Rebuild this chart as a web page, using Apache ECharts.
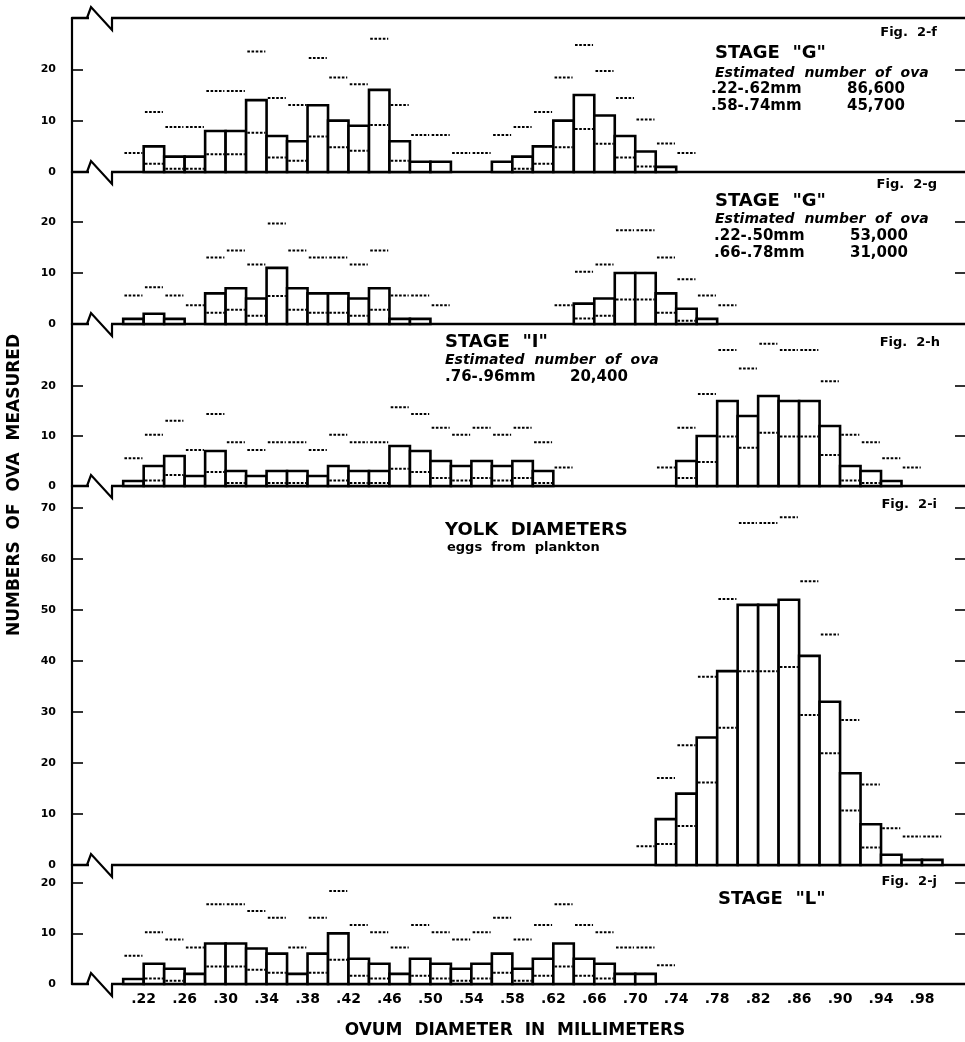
<!DOCTYPE html>
<html>
<head>
<meta charset="utf-8">
<script src="https://cdn.jsdelivr.net/npm/echarts@6/dist/echarts.min.js"></script>
<style>
  html, body { margin: 0; padding: 0; background: #fff; }
  #chart { width: 965px; height: 1042px; }
</style>
</head>
<body>
<div id="chart"></div>
<script>
// Ovum diameter classes are 0.02 mm wide; each panel lists counts per class
// starting at its first class. 0 = empty class that still carries a limit mark,
// null = empty class with nothing drawn.
const BIN_WIDTH = 0.02;

const startF = 0.20;
const countsF = [0, 5, 3, 3, 8, 8, 14, 7, 6, 13, 10, 9, 16, 6, 2, 2, 0, 0,
                 2, 3, 5, 10, 15, 11, 7, 4, 1, 0];

const startG = 0.20;
const countsG = [1, 2, 1, 0, 6, 7, 5, 11, 7, 6, 6, 5, 7, 1, 1, 0,
                 null, null, null, null, null,
                 0, 4, 5, 10, 10, 6, 3, 1, 0];

const startH = 0.20;
const countsH = [1, 4, 6, 2, 7, 3, 2, 3, 3, 2, 4, 3, 3, 8, 7, 5, 4, 5, 4, 5, 3, 0,
                 null, null, null, null,
                 0, 5, 10, 17, 14, 18, 17, 17, 12, 4, 3, 1, 0];

const startI = 0.70;
const countsI = [0, 9, 14, 25, 38, 51, 51, 52, 41, 32, 18, 8, 2, 1, 1];

const startJ = 0.20;
const countsJ = [1, 4, 3, 2, 8, 8, 7, 6, 2, 6, 10, 5, 4, 2, 5, 4, 3, 4, 6, 3,
                 5, 8, 5, 4, 2, 2, 0];

// 95 % confidence limits of a Poisson count (lower, upper), standard table.
const poisson95 = {
  0: [0, 3.69], 1: [0.03, 5.57], 2: [0.24, 7.22], 3: [0.62, 8.77],
  4: [1.09, 10.24], 5: [1.62, 11.67], 6: [2.20, 13.06], 7: [2.81, 14.42],
  8: [3.45, 15.76], 9: [4.12, 17.08], 10: [4.80, 18.39], 11: [5.49, 19.68],
  12: [6.20, 20.96], 13: [6.92, 22.23], 14: [7.65, 23.49], 15: [8.40, 24.74],
  16: [9.15, 25.98], 17: [9.90, 27.22], 18: [10.67, 28.45], 25: [16.18, 36.90],
  32: [21.89, 45.17], 38: [26.89, 52.15], 41: [29.42, 55.62], 51: [37.97, 67.06],
  52: [38.84, 68.19]
};

const xTickLabels = ['.22', '.26', '.30', '.34', '.38', '.42', '.46', '.50', '.54', '.58',
                     '.62', '.66', '.70', '.74', '.78', '.82', '.86', '.90', '.94', '.98'];
const xTickValues = xTickLabels.map(s => parseFloat('0' + s));

const yLabelsSmall = [0, 10, 20];
const yLabelsYolk = [0, 10, 20, 30, 40, 50, 60, 70];

// ---- layout ----
const FONT = 'DejaVu Sans';
const X_MIN = 0.15, X_MAX = 1.022;
const LEFT = 72;

const panels = [
  { top: 18,  height: 154, max: 30.0, start: startF, counts: countsF, labels: yLabelsSmall },
  { top: 172, height: 152, max: 29.8, start: startG, counts: countsG, labels: yLabelsSmall },
  { top: 324, height: 162, max: 32.4, start: startH, counts: countsH, labels: yLabelsSmall },
  { top: 486, height: 379, max: 74.3, start: startI, counts: countsI, labels: yLabelsYolk },
  { top: 865, height: 119, max: 23.5, start: startJ, counts: countsJ, labels: yLabelsSmall }
];

function classLow(start, k) {
  return Math.round((start + k * BIN_WIDTH) * 1000) / 1000;
}

function renderBar(params, api) {
  const lo = api.value(0), n = api.value(1);
  const a = api.coord([lo, 0]);
  const b = api.coord([lo + BIN_WIDTH, n]);
  return {
    type: 'rect',
    shape: { x: a[0], y: b[1], width: b[0] - a[0], height: a[1] - b[1] },
    style: { fill: '#fff', stroke: '#000', lineWidth: 2.6 }
  };
}

function renderLimits(params, api) {
  const lo = api.value(0), lower = api.value(1), upper = api.value(2), n = api.value(3);
  const x0 = lo + 0.0012, x1 = lo + BIN_WIDTH - 0.0012;
  const seg = (v) => {
    const p = api.coord([x0, v]), q = api.coord([x1, v]);
    return {
      type: 'line',
      shape: { x1: p[0], y1: p[1], x2: q[0], y2: q[1] },
      style: { stroke: '#000', lineWidth: 2, lineDash: [2.6, 1.6] }
    };
  };
  const children = [seg(upper)];
  if (n > 0 && lower > 0.3) children.push(seg(lower));
  return { type: 'group', children };
}

const grids = [], xAxes = [], yAxes = [], series = [];

panels.forEach((p, i) => {
  const last = i === panels.length - 1;
  grids.push({ left: LEFT, right: 0, top: p.top, height: p.height });

  xAxes.push({
    type: 'value', gridIndex: i, min: X_MIN, max: X_MAX,
    axisLine: { show: true, onZero: false, lineStyle: { color: '#000', width: 2.4 } },
    axisTick: { show: false },
    splitLine: { show: false },
    axisLabel: last ? {
      show: true, customValues: xTickValues, margin: 8,
      color: '#000', fontFamily: FONT, fontWeight: 'bold', fontSize: 14,
      formatter: (v) => {
        const idx = xTickValues.findIndex(t => Math.abs(t - v) < 1e-6);
        return idx >= 0 ? xTickLabels[idx] : '';
      }
    } : { show: false }
  });

  const tickVals = p.labels.filter(v => v > 0);
  yAxes.push({
    type: 'value', gridIndex: i, min: 0, max: p.max, position: 'left',
    axisLine: { show: true, lineStyle: { color: '#000', width: 2.2 } },
    axisTick: { show: true, inside: true, length: 11, customValues: tickVals,
                lineStyle: { color: '#000', width: 1.6 } },
    axisLabel: { show: true, customValues: p.labels, margin: 16, color: '#000',
                 fontFamily: FONT, fontWeight: 'bold', fontSize: 11 },
    splitLine: { show: false }
  });
  yAxes.push({
    type: 'value', gridIndex: i, min: 0, max: p.max, position: 'right',
    axisLine: { show: false },
    axisTick: { show: true, inside: true, length: 10, customValues: tickVals,
                lineStyle: { color: '#000', width: 1.6 } },
    axisLabel: { show: false },
    splitLine: { show: false }
  });

  const barData = [], limitData = [];
  p.counts.forEach((n, k) => {
    if (n === null) return;
    const lo = classLow(p.start, k);
    if (n > 0) barData.push([lo, n]);
    const lim = poisson95[n];
    limitData.push([lo, lim[0], lim[1], n]);
  });

  series.push({
    type: 'custom', xAxisIndex: i, yAxisIndex: i * 2, renderItem: renderBar,
    data: barData, encode: { x: 0, y: 1 }, z: 2, silent: true
  });
  series.push({
    type: 'custom', xAxisIndex: i, yAxisIndex: i * 2, renderItem: renderLimits,
    data: limitData, encode: { x: 0, y: 2 }, z: 3, silent: true
  });
});

// top border of the uppermost panel
xAxes.push({
  type: 'value', gridIndex: 0, position: 'top', min: X_MIN, max: X_MAX,
  axisLine: { show: true, onZero: false, lineStyle: { color: '#000', width: 2.4 } },
  axisTick: { show: false }, axisLabel: { show: false }, splitLine: { show: false }
});

// ---- break marks on each horizontal rule ----
const graphics = [];
const rules = [panels[0].top].concat(panels.map(p => p.top + p.height));
rules.forEach(y => {
  graphics.push({
    type: 'rect', z: 100, silent: true,
    shape: { x: LEFT + 17, y: y - 2.5, width: 22, height: 5 },
    style: { fill: '#fff' }
  });
  graphics.push({
    type: 'polyline', z: 101, silent: true,
    shape: { points: [[LEFT + 15, y], [LEFT + 19, y - 11], [LEFT + 40, y + 12], [LEFT + 40, y]] },
    style: { stroke: '#000', lineWidth: 2.2, fill: null }
  });
});

function txt(text, x, y, font, align) {
  return {
    type: 'text', z: 110, silent: true, x: x, y: y,
    style: { text: text, font: font, fill: '#000',
             textAlign: align || 'left', textVerticalAlign: 'middle',
             align: align || 'left', verticalAlign: 'middle' }
  };
}

const figFont = 'bold 13px "' + FONT + '"';
const stageFont = 'bold 18px "' + FONT + '"';
const estFont = 'italic bold 14px "' + FONT + '"';
const numFont = 'bold 15px "' + FONT + '"';

graphics.push(
  // Fig. 2-f
  txt('Fig.  2-f', 937, 33, figFont, 'right'),
  txt('STAGE  "G"', 715, 53, stageFont),
  txt('Estimated  number  of  ova', 715, 73, estFont),
  txt('.22-.62mm', 711, 89, numFont),
  txt('86,600', 847, 89, numFont),
  txt('.58-.74mm', 711, 106, numFont),
  txt('45,700', 847, 106, numFont),
  // Fig. 2-g
  txt('Fig.  2-g', 937, 185, figFont, 'right'),
  txt('STAGE  "G"', 715, 201, stageFont),
  txt('Estimated  number  of  ova', 715, 219, estFont),
  txt('.22-.50mm', 714, 236, numFont),
  txt('53,000', 850, 236, numFont),
  txt('.66-.78mm', 714, 253, numFont),
  txt('31,000', 850, 253, numFont),
  // Fig. 2-h
  txt('Fig.  2-h', 940, 343, figFont, 'right'),
  txt('STAGE  "I"', 445, 342, stageFont),
  txt('Estimated  number  of  ova', 445, 360, estFont),
  txt('.76-.96mm', 445, 377, numFont),
  txt('20,400', 570, 377, numFont),
  // Fig. 2-i
  txt('Fig.  2-i', 937, 505, figFont, 'right'),
  txt('YOLK  DIAMETERS', 445, 530, 'bold 18px "' + FONT + '"'),
  txt('eggs  from  plankton', 447, 548, 'bold 13px "' + FONT + '"'),
  // Fig. 2-j
  txt('Fig.  2-j', 937, 882, figFont, 'right'),
  txt('STAGE  "L"', 718, 899, stageFont),
  // axis titles
  txt('OVUM  DIAMETER  IN  MILLIMETERS', 515, 1031, 'bold 17px "' + FONT + '"', 'center'),
  {
    type: 'text', z: 110, silent: true, x: 15, y: 485, rotation: Math.PI / 2,
    style: { text: 'NUMBERS  OF  OVA  MEASURED', font: 'bold 17px "' + FONT + '"', fill: '#000',
             textAlign: 'center', textVerticalAlign: 'middle', align: 'center', verticalAlign: 'middle' }
  }
);

const chart = echarts.init(document.getElementById('chart'));
chart.setOption({
  animation: false,
  backgroundColor: '#fff',
  grid: grids,
  xAxis: xAxes,
  yAxis: yAxes,
  series: series,
  graphic: { elements: graphics }
});
</script>
</body>
</html>
